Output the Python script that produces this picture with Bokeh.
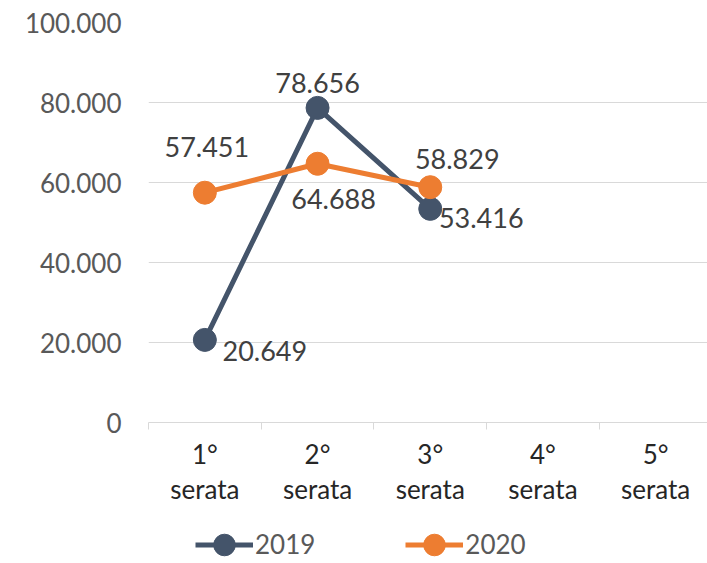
import numpy as np
from bokeh.plotting import figure
from bokeh.layouts import column
from bokeh.models import ColumnDataSource, FixedTicker, Range1d, Legend, LegendItem
from bokeh.core.properties import value
from bokeh.embed import file_html
from bokeh.resources import INLINE

# ---- data ----
categories = ["1°\nserata", "2°\nserata", "3°\nserata", "4°\nserata", "5°\nserata"]
series_names = ["2019", "2020"]
values_2019 = [20649, 78656, 53416]
values_2020 = [57451, 64688, 58829]
y_ticks = [0, 20000, 40000, 60000, 80000, 100000]

# ---- style ----
FONT = "Lato"
COLORS = {"2019": "#44546A", "2020": "#ED7D31"}
GRID = "#D9D9D9"
# data-label offsets in screen px (dx, dy)
OFFSETS = {"2019": [(60, 11), (0, -25), (51, 9)],
           "2020": [(2, -46), (16, 35), (27, -28)]}
VALUES = {"2019": values_2019, "2020": values_2020}


def fmt(v):
    return f"{v:,}".replace(",", ".")


centers = np.arange(len(categories)) + 0.5
bounds = np.arange(len(categories)).tolist()

p = figure(width=707, height=524, output_backend="svg", toolbar_location=None,
           x_range=Range1d(0, 4.96), y_range=Range1d(0, 100000),
           min_border_left=148, min_border_top=22, min_border_bottom=102,
           min_border_right=0)
p.outline_line_color = None
p.background_fill_color = "white"
p.border_fill_color = "white"

# y axis
p.yaxis.ticker = FixedTicker(ticks=y_ticks)
p.yaxis.major_label_overrides = {t: fmt(t) for t in y_ticks}
p.yaxis.axis_line_color = None
p.yaxis.major_tick_line_color = None
p.yaxis.minor_tick_line_color = None
p.yaxis.major_tick_out = 0
p.yaxis.major_tick_in = 0
p.yaxis.major_label_standoff = 27
p.yaxis.major_label_text_font = FONT
p.yaxis.major_label_text_font_size = "26px"
p.yaxis.major_label_text_color = "#595959"
p.ygrid.ticker = FixedTicker(ticks=y_ticks)
p.ygrid.grid_line_color = GRID
p.ygrid.grid_line_width = 1
p.xgrid.grid_line_color = None

# x axis
p.xaxis.ticker = FixedTicker(ticks=centers.tolist(), minor_ticks=bounds)
p.xaxis.major_label_overrides = {float(c): cat for c, cat in zip(centers, categories)}
p.xaxis.axis_line_color = GRID
p.xaxis.axis_line_width = 1
p.xaxis.major_tick_line_color = None
p.xaxis.major_tick_out = 0
p.xaxis.major_tick_in = 0
p.xaxis.minor_tick_line_color = GRID
p.xaxis.minor_tick_out = 7
p.xaxis.minor_tick_in = 0
p.xaxis.major_label_standoff = 8
p.xaxis.major_label_text_font = FONT
p.xaxis.major_label_text_font_size = "26px"
p.xaxis.major_label_text_color = "#262626"
p.xaxis.major_label_text_line_height = 1.12

# legend strip (separate small figure so the swatches are not clipped)
leg = figure(width=707, height=39, output_backend="svg", toolbar_location=None,
             x_range=Range1d(0, 1), y_range=Range1d(200000, 300000),
             x_axis_type=None, y_axis_type=None,
             min_border_left=0, min_border_right=0, min_border_top=0,
             min_border_bottom=0)
leg.outline_line_color = None
leg.xgrid.visible = False
leg.ygrid.visible = False

sources = {}
items = []
for name in series_names:
    vals = VALUES[name]
    col = COLORS[name]
    offs = OFFSETS[name]
    src = ColumnDataSource(dict(
        x=centers[:len(vals)], y=vals,
        label=[fmt(v) for v in vals],
        dx=[o[0] for o in offs], dy=[o[1] for o in offs]))
    sources[name] = src
    p.line("x", "y", source=src, line_color=col, line_width=5)
    p.ellipse("x", "y", width=23, height=23, width_units="screen",
              height_units="screen", source=src, fill_color=col, line_color=col)
    # legend glyphs (same data, out of the strip's view)
    l2 = leg.line("x", "y", source=src, line_color=col, line_width=5)
    e2 = leg.ellipse("x", "y", width=23, height=23, width_units="screen",
                     height_units="screen", source=src, fill_color=col, line_color=col)
    items.append(LegendItem(label=name, renderers=[l2, e2]))

for name in series_names:
    p.text(x="x", y="y", text="label", source=sources[name],
           x_offset="dx", y_offset="dy",
           text_align="center", text_baseline="middle",
           text_font=value(FONT), text_font_size="27px", text_color="#404040")

legend = Legend(items=items, location=(47, 3), orientation="horizontal",
                glyph_width=58, glyph_height=27, label_height=27,
                label_standoff=2, spacing=90,
                padding=0, margin=0, background_fill_alpha=0,
                border_line_color=None, label_text_font=FONT,
                label_text_font_size="26px", label_text_color="#595959",
                label_text_baseline="middle")
leg.add_layout(legend)

layout = column(p, leg, spacing=0)
open("out.html", "w").write(file_html(layout, INLINE))
